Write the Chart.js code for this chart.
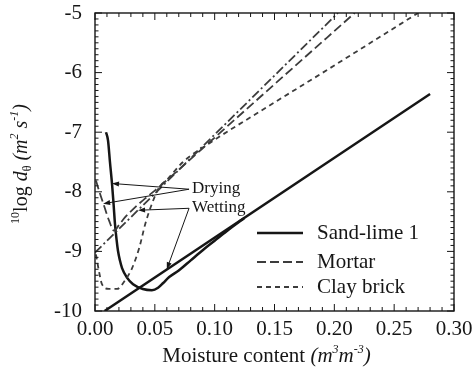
<!DOCTYPE html>
<html>
<head>
<meta charset="utf-8">
<script src="https://cdn.jsdelivr.net/npm/chart.js@4.4.1/dist/chart.umd.min.js"></script>
<style>
  body { margin: 0; background: #fff; }
</style>
</head>
<body>
<canvas id="myChart" width="472" height="371"></canvas>
<script>
//* DATA *//
let xTicks = [0, 0.05, 0.10, 0.15, 0.20, 0.25, 0.30];
let yTicks = [-10, -9, -8, -7, -6, -5];

// sand-lime 1, wetting (straight) and drying (loop)
let sandWetX = [0.008, 0.28];
let sandWetY = [-10, -6.36];
let sandDryX = [0.0092, 0.0109, 0.0125, 0.0142, 0.0155, 0.0167, 0.018, 0.0192, 0.0208, 0.0226, 0.0267, 0.0318, 0.040, 0.0476, 0.0527, 0.057, 0.062, 0.07, 0.08, 0.09, 0.10, 0.11, 0.12, 0.125];
let sandDryY = [-7.0, -7.14, -7.5, -7.86, -8.2, -8.54, -8.8, -8.99, -9.15, -9.28, -9.44, -9.55, -9.63, -9.65, -9.61, -9.53, -9.43, -9.32, -9.15, -8.98, -8.82, -8.66, -8.51, -8.44];

// mortar
let mortarDryX = [0.0008, 0.004, 0.0075, 0.0117, 0.0159, 0.020, 0.025, 0.033, 0.042, 0.050, 0.071, 0.10, 0.138, 0.217];
let mortarDryY = [-7.81, -8.02, -8.23, -8.48, -8.65, -8.56, -8.43, -8.27, -8.11, -7.98, -7.61, -7.09, -6.41, -5.0];
let mortarWetX = [0, 0.203];
let mortarWetY = [-9.02, -5.0];

// clay brick
let clayX = [0.0008, 0.0033, 0.0058, 0.0117, 0.0184, 0.025, 0.031, 0.037, 0.042, 0.0476, 0.0535, 0.060, 0.0735, 0.096, 0.138, 0.188, 0.27];
let clayY = [-9.05, -9.33, -9.55, -9.63, -9.63, -9.49, -9.28, -8.94, -8.54, -8.20, -7.93, -7.80, -7.50, -7.18, -6.65, -6.03, -5.0];

let legendNames = ['Sand-lime 1', 'Mortar', 'Clay brick'];

// annotation labels and arrow tips (data coords)
let dryingLabel = [0.0811, -7.94];
let dryingTips = [[0.0142, -7.86], [0.0068, -8.2]];
let wettingLabel = [0.0811, -8.26];
let wettingTips = [[0.036, -8.31], [0.060, -9.30]];

//* HELPERS *//
function toPoints(xs, ys) {
  return xs.map((x, i) => ({ x: x, y: ys[i] }));
}

const FONT = '"Liberation Serif", "Times New Roman", serif';
const INK = '#161616';

function partFont(p) {
  return (p[2] ? 'italic ' : '') + p[1] + 'px ' + FONT;
}

// parts: [text, size, italic, yShift]
function drawRich(ctx, parts, x, y) {
  let total = 0;
  parts.forEach(p => { ctx.font = partFont(p); total += ctx.measureText(p[0]).width; });
  let cx = x - total / 2;
  parts.forEach(p => {
    ctx.font = partFont(p);
    ctx.fillText(p[0], cx, y + p[3]);
    cx += ctx.measureText(p[0]).width;
  });
}

function arrow(ctx, x0, y0, x1, y1) {
  let ang = Math.atan2(y1 - y0, x1 - x0);
  ctx.beginPath();
  ctx.moveTo(x0, y0);
  ctx.lineTo(x1 - 5 * Math.cos(ang), y1 - 5 * Math.sin(ang));
  ctx.stroke();
  ctx.beginPath();
  ctx.moveTo(x1, y1);
  ctx.lineTo(x1 - 7 * Math.cos(ang) + 2.5 * Math.sin(ang), y1 - 7 * Math.sin(ang) - 2.5 * Math.cos(ang));
  ctx.lineTo(x1 - 7 * Math.cos(ang) - 2.5 * Math.sin(ang), y1 - 7 * Math.sin(ang) + 2.5 * Math.cos(ang));
  ctx.closePath();
  ctx.fill();
}

//* PLUGIN: frame, inward ticks, titles, legend, notes *//
const extras = {
  id: 'extras',
  afterDatasetsDraw(chart) {
    const { ctx, chartArea: a, scales: { x, y } } = chart;
    ctx.save();
    ctx.strokeStyle = INK;
    ctx.fillStyle = INK;

    // frame
    ctx.lineWidth = 1.4;
    ctx.strokeRect(a.left, a.top, a.right - a.left, a.bottom - a.top);

    // inward ticks
    ctx.lineWidth = 1;
    ctx.beginPath();
    for (let i = 0; i <= 30; i++) {
      let px = x.getPixelForValue(i / 100);
      let len = i % 5 === 0 ? 7 : 4;
      ctx.moveTo(px, a.bottom); ctx.lineTo(px, a.bottom - len);
      ctx.moveTo(px, a.top); ctx.lineTo(px, a.top + len);
    }
    for (let i = 0; i <= 50; i++) {
      let py = y.getPixelForValue(-10 + i / 10);
      let len = i % 10 === 0 ? 7 : 3.5;
      ctx.moveTo(a.left, py); ctx.lineTo(a.left + len, py);
      ctx.moveTo(a.right, py); ctx.lineTo(a.right - len, py);
    }
    ctx.stroke();

    // axis titles
    ctx.textAlign = 'left';
    ctx.textBaseline = 'alphabetic';
    drawRich(ctx, [
      ['Moisture content ', 21, false, 0],
      ['(', 21, true, 0],
      ['m', 21, true, 0],
      ['3', 12, true, -9],
      ['m', 21, true, 0],
      ['-3', 12, true, -9],
      [')', 21, true, 0]
    ], (a.left + a.right) / 2 - 8, 362);

    ctx.save();
    ctx.translate(27, (a.top + a.bottom) / 2 + 2);
    ctx.rotate(-Math.PI / 2);
    drawRich(ctx, [
      ['10', 12, false, -8],
      ['log ', 20, false, 0],
      ['d', 20, true, 0],
      ['\u03B8', 12, false, 4],
      [' (', 20, true, 0],
      ['m', 20, true, 0],
      ['2', 12, true, -9],
      [' s', 20, true, 0],
      ['-1', 12, true, -9],
      [')', 20, true, 0]
    ], 0, 0);
    ctx.restore();

    // legend inside plot
    let rows = [a.bottom - 78, a.bottom - 49, a.bottom - 24];
    let styles = chart.data.datasets.filter(d => d.legendRow !== undefined);
    styles.forEach(d => {
      let ry = rows[d.legendRow];
      ctx.save();
      ctx.strokeStyle = d.borderColor;
      ctx.lineWidth = d.borderWidth;
      ctx.setLineDash(d.borderDash || []);
      ctx.beginPath();
      ctx.moveTo(a.left + 162, ry);
      ctx.lineTo(a.left + 208, ry);
      ctx.stroke();
      ctx.restore();
      ctx.font = '21px ' + FONT;
      ctx.textBaseline = 'middle';
      ctx.fillText(legendNames[d.legendRow], a.left + 222, ry);
    });

    // Drying / Wetting notes with arrows
    ctx.font = '17px ' + FONT;
    ctx.textBaseline = 'middle';
    ctx.lineWidth = 1;
    [[dryingLabel, dryingTips, 'Drying'], [wettingLabel, wettingTips, 'Wetting']].forEach(n => {
      let lx = x.getPixelForValue(n[0][0]);
      let ly = y.getPixelForValue(n[0][1]);
      ctx.fillText(n[2], lx, ly);
      n[1].forEach(t => {
        arrow(ctx, lx - 3, ly + 1, x.getPixelForValue(t[0]), y.getPixelForValue(t[1]));
      });
    });

    ctx.restore();
  }
};

//* CHART *//
let ctx = document.getElementById('myChart');

let chartObj = {
  type: 'line',
  data: {
    datasets: [
      {
        label: 'Clay brick',
        data: toPoints(clayX, clayY),
        borderColor: '#3c3c3c',
        borderWidth: 1.8,
        borderDash: [5, 4],
        cubicInterpolationMode: 'monotone',
        legendRow: 2
      },
      {
        label: 'Mortar wetting',
        data: toPoints(mortarWetX, mortarWetY),
        borderColor: '#3c3c3c',
        borderWidth: 1.8,
        borderDash: [9, 3, 2, 3]
      },
      {
        label: 'Mortar',
        data: toPoints(mortarDryX, mortarDryY),
        borderColor: '#3c3c3c',
        borderWidth: 1.8,
        borderDash: [9, 4],
        cubicInterpolationMode: 'monotone',
        legendRow: 1
      },
      {
        label: 'Sand-lime 1 drying',
        data: toPoints(sandDryX, sandDryY),
        borderColor: INK,
        borderWidth: 2.5,
        cubicInterpolationMode: 'monotone'
      },
      {
        label: 'Sand-lime 1',
        data: toPoints(sandWetX, sandWetY),
        borderColor: INK,
        borderWidth: 2.5,
        legendRow: 0
      }
    ]
  },
  options: {
    responsive: false,
    animation: false,
    elements: { point: { radius: 0 } },
    layout: { padding: { top: 13, right: 18, left: 0, bottom: 0 } },
    plugins: {
      legend: { display: false },
      tooltip: { enabled: false }
    },
    scales: {
      x: {
        type: 'linear',
        min: 0,
        max: 0.3,
        afterBuildTicks: s => { s.ticks = xTicks.map(v => ({ value: v })); },
        afterFit: s => { s.height = 60; s.paddingLeft = 0; s.paddingRight = 0; },
        grid: { display: false, drawTicks: false },
        border: { display: false },
        ticks: {
          padding: 6,
          color: INK,
          font: { family: FONT, size: 21 },
          callback: v => v.toFixed(2)
        }
      },
      y: {
        type: 'linear',
        min: -10,
        max: -5,
        afterBuildTicks: s => { s.ticks = yTicks.map(v => ({ value: v })); },
        afterFit: s => { s.width = 95; s.paddingTop = 0; s.paddingBottom = 0; },
        grid: { display: false, drawTicks: false },
        border: { display: false },
        ticks: {
          padding: 13,
          color: INK,
          font: { family: FONT, size: 21 },
          callback: v => String(v)
        }
      }
    }
  },
  plugins: [extras]
};

new Chart(ctx, chartObj);
</script>
</body>
</html>
